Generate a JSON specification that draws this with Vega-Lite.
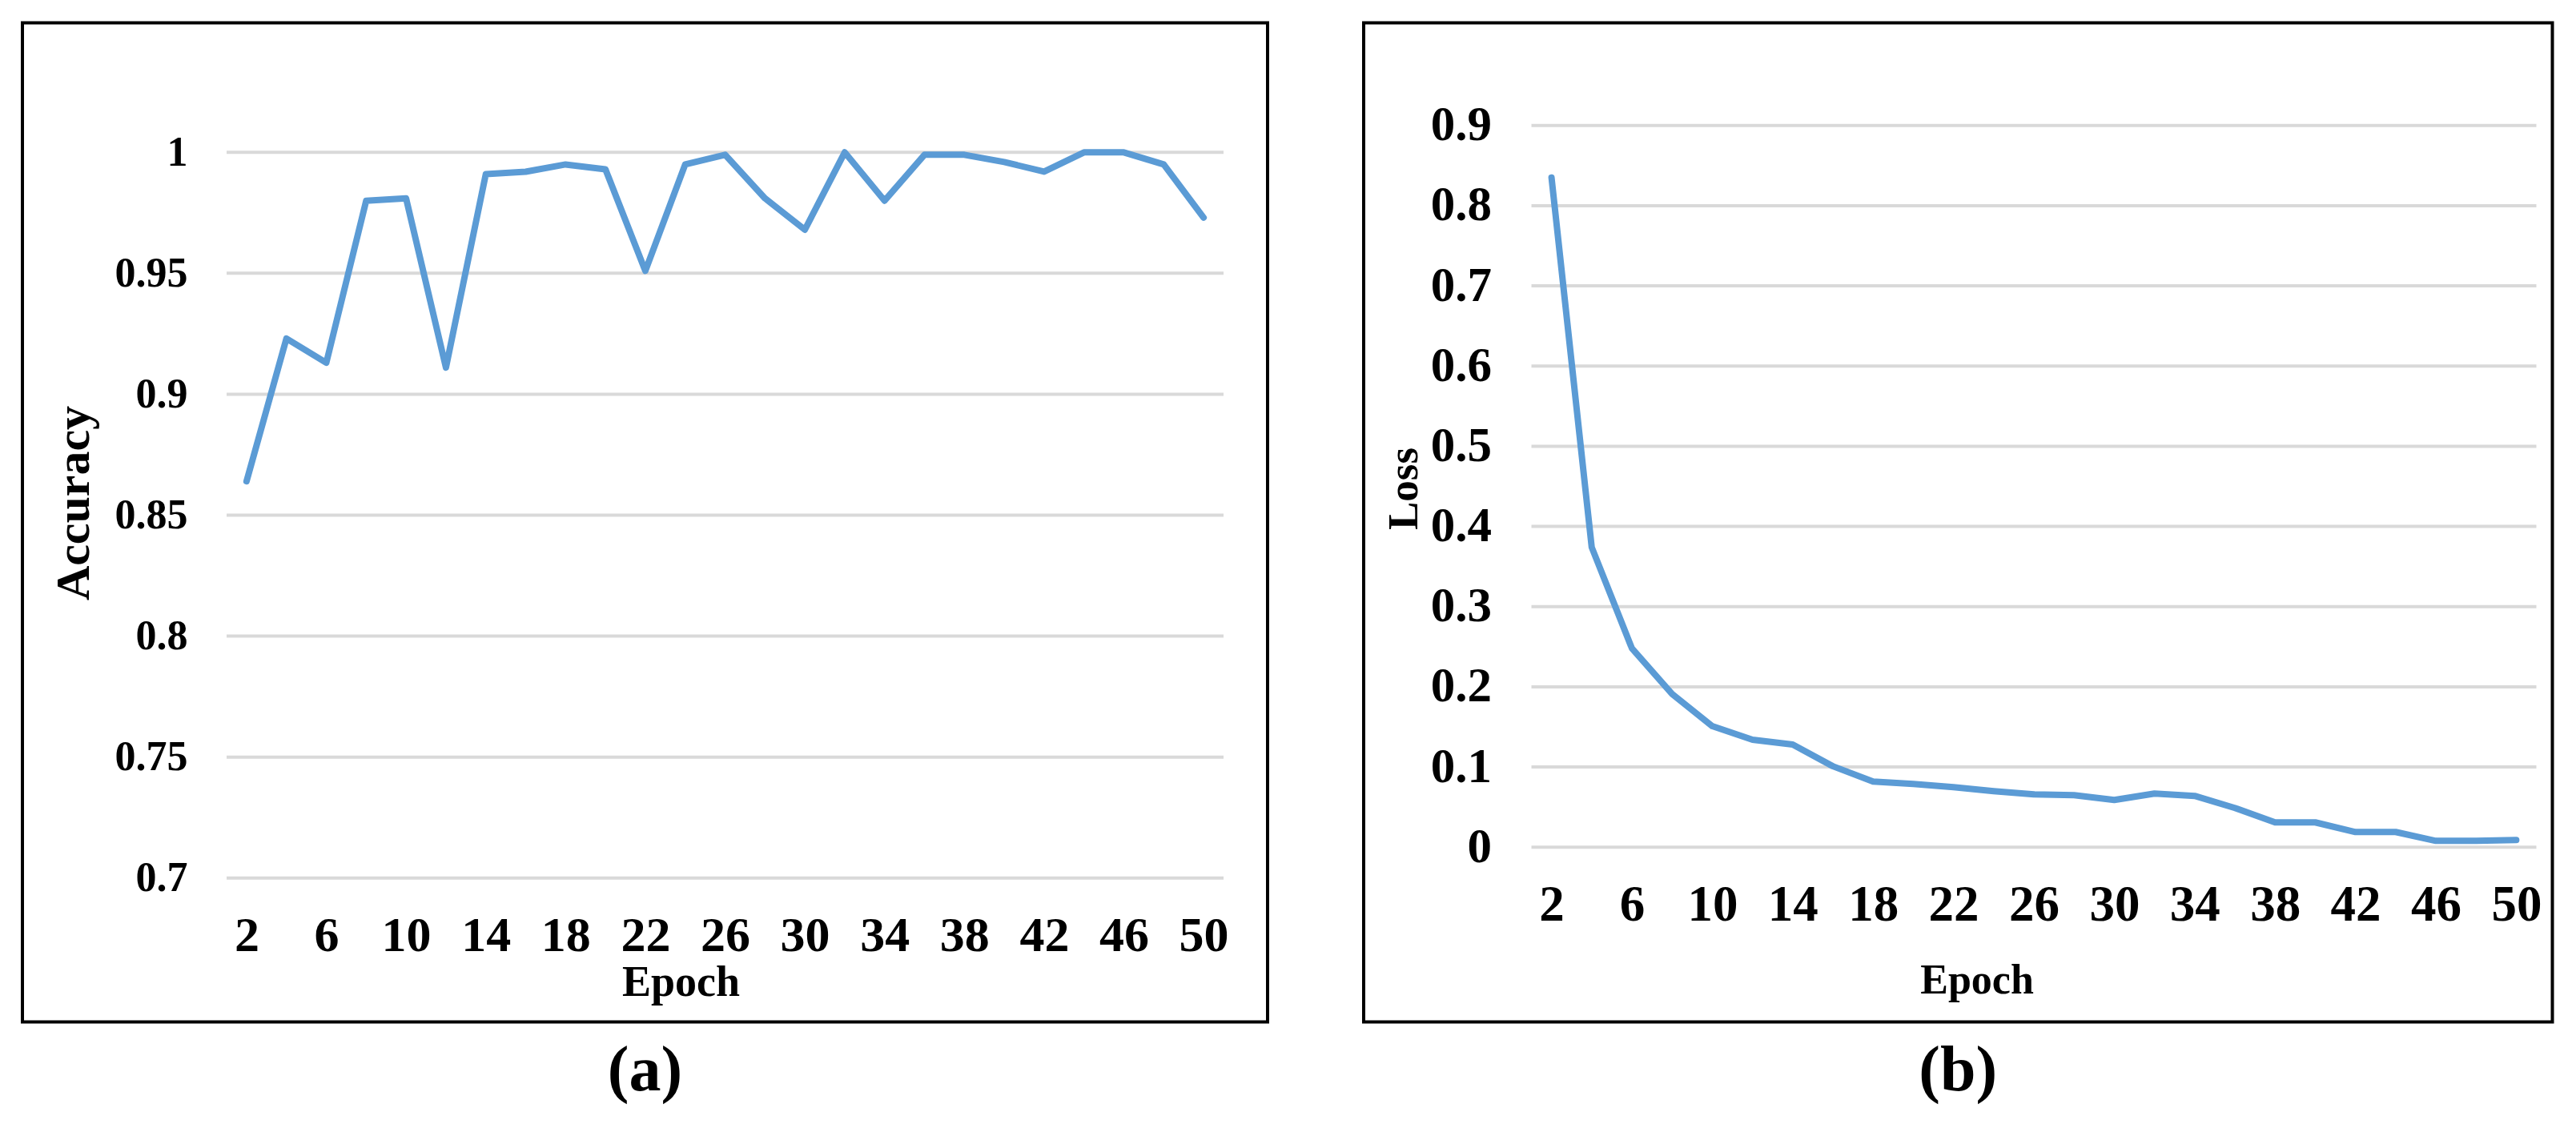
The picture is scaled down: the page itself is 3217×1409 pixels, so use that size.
{
  "$schema": "https://vega.github.io/schema/vega-lite/v6.json",
  "background": "white",
  "padding": {"left": 26, "top": 26.5, "right": 0, "bottom": 0},
  "config": {
    "view": {"stroke": "#000000", "strokeWidth": 4},
    "font": "Liberation Serif",
    "axis": {
      "grid": false, "domain": false, "ticks": false,
      "labelFont": "Liberation Serif", "labelFontWeight": "bold", "labelColor": "#000000",
      "titleFont": "Liberation Serif", "titleFontWeight": "bold", "titleColor": "#000000",
      "labelPadding": 0, "labelFlush": false, "labelOverlap": false, "labelBound": false
    },
    "title": {"font": "Liberation Serif", "fontWeight": "bold", "color": "#000000"}
  },
  "spacing": 116,
  "hconcat": [
    {
      "width": 1555,
      "height": 1248,
      "title": {"text": "(a)", "orient": "bottom", "anchor": "middle", "fontSize": 80, "baseline": "alphabetic", "offset": 85},
      "data": {"values": [
        {"epoch": 2, "accuracy": 0.864}, {"epoch": 4, "accuracy": 0.923}, {"epoch": 6, "accuracy": 0.913},
        {"epoch": 8, "accuracy": 0.980}, {"epoch": 10, "accuracy": 0.981}, {"epoch": 12, "accuracy": 0.911},
        {"epoch": 14, "accuracy": 0.991}, {"epoch": 16, "accuracy": 0.992}, {"epoch": 18, "accuracy": 0.995},
        {"epoch": 20, "accuracy": 0.993}, {"epoch": 22, "accuracy": 0.951}, {"epoch": 24, "accuracy": 0.995},
        {"epoch": 26, "accuracy": 0.999}, {"epoch": 28, "accuracy": 0.981}, {"epoch": 30, "accuracy": 0.968},
        {"epoch": 32, "accuracy": 1.0}, {"epoch": 34, "accuracy": 0.980}, {"epoch": 36, "accuracy": 0.999},
        {"epoch": 38, "accuracy": 0.999}, {"epoch": 40, "accuracy": 0.996}, {"epoch": 42, "accuracy": 0.992},
        {"epoch": 44, "accuracy": 1.0}, {"epoch": 46, "accuracy": 1.0}, {"epoch": 48, "accuracy": 0.995},
        {"epoch": 50, "accuracy": 0.973}
      ]},
      "layer": [
        {
          "data": {"values": [{"g": 0.7}, {"g": 0.75}, {"g": 0.8}, {"g": 0.85}, {"g": 0.9}, {"g": 0.95}, {"g": 1.0}]},
          "mark": {"type": "rule", "color": "#d9d9d9", "strokeWidth": 4},
          "encoding": {
            "x": {"datum": 1, "type": "quantitative", "scale": {"domain": [1, 51], "range": [255, 1500], "nice": false, "zero": false},
              "axis": {"values": [2, 6, 10, 14, 18, 22, 26, 30, 34, 38, 42, 46, 50], "format": "d", "offset": -138, "labelFontSize": 62, "labelBaseline": "top",
                "title": "Epoch", "titleFontSize": 54, "titleX": 822, "titleY": 105, "titleBaseline": "alphabetic", "titleAlign": "center", "titleAngle": 0}},
            "x2": {"datum": 51},
            "y": {"field": "g", "type": "quantitative", "scale": {"domain": [0.7, 1.0], "range": [1068.2, 161.8], "nice": false, "zero": false},
              "axis": {"values": [0.7, 0.75, 0.8, 0.85, 0.9, 0.95, 1.0], "format": "~g", "offset": -206, "labelFontSize": 52, "labelAlign": "right", "labelBaseline": "middle",
                "title": "Accuracy", "titleFontSize": 60, "titleAngle": 270, "titleX": -124, "titleY": 599.5, "titleBaseline": "alphabetic", "titleAlign": "center"}}
          }
        },
        {
          "mark": {"type": "line", "color": "#5b9bd5", "strokeWidth": 8, "strokeCap": "round", "strokeJoin": "round"},
          "encoding": {
            "x": {"field": "epoch", "type": "quantitative",
              "scale": {"domain": [1, 51], "range": [255, 1500], "nice": false, "zero": false},
              "axis": {"values": [2, 6, 10, 14, 18, 22, 26, 30, 34, 38, 42, 46, 50], "format": "d", "offset": -138, "labelFontSize": 62, "labelBaseline": "top",
                "title": "Epoch", "titleFontSize": 54, "titleX": 822, "titleY": 105, "titleBaseline": "alphabetic", "titleAlign": "center", "titleAngle": 0}},
            "y": {"field": "accuracy", "type": "quantitative",
              "scale": {"domain": [0.7, 1.0], "range": [1068.2, 161.8], "nice": false, "zero": false},
              "axis": {"values": [0.7, 0.75, 0.8, 0.85, 0.9, 0.95, 1.0], "format": "~g", "offset": -206, "labelFontSize": 52, "labelAlign": "right", "labelBaseline": "middle",
                "title": "Accuracy", "titleFontSize": 60, "titleAngle": 270, "titleX": -124, "titleY": 599.5, "titleBaseline": "alphabetic", "titleAlign": "center"}}
          }
        }
      ]
    },
    {
      "width": 1484.5,
      "height": 1248,
      "title": {"text": "(b)", "orient": "bottom", "anchor": "middle", "fontSize": 80, "baseline": "alphabetic", "offset": 85},
      "data": {"values": [
        {"epoch": 2, "loss": 0.835}, {"epoch": 4, "loss": 0.374}, {"epoch": 6, "loss": 0.248},
        {"epoch": 8, "loss": 0.191}, {"epoch": 10, "loss": 0.151}, {"epoch": 12, "loss": 0.134},
        {"epoch": 14, "loss": 0.128}, {"epoch": 16, "loss": 0.101}, {"epoch": 18, "loss": 0.082},
        {"epoch": 20, "loss": 0.079}, {"epoch": 22, "loss": 0.075}, {"epoch": 24, "loss": 0.070},
        {"epoch": 26, "loss": 0.066}, {"epoch": 28, "loss": 0.065}, {"epoch": 30, "loss": 0.059},
        {"epoch": 32, "loss": 0.067}, {"epoch": 34, "loss": 0.064}, {"epoch": 36, "loss": 0.049},
        {"epoch": 38, "loss": 0.031}, {"epoch": 40, "loss": 0.031}, {"epoch": 42, "loss": 0.019},
        {"epoch": 44, "loss": 0.019}, {"epoch": 46, "loss": 0.008}, {"epoch": 48, "loss": 0.008},
        {"epoch": 50, "loss": 0.009}
      ]},
      "layer": [
        {
          "data": {"values": [{"g": 0}, {"g": 0.1}, {"g": 0.2}, {"g": 0.3}, {"g": 0.4}, {"g": 0.5}, {"g": 0.6}, {"g": 0.7}, {"g": 0.8}, {"g": 0.9}]},
          "mark": {"type": "rule", "color": "#d9d9d9", "strokeWidth": 4},
          "encoding": {
            "x": {"datum": 1, "type": "quantitative", "scale": {"domain": [1, 51], "range": [209.5, 1464.5], "nice": false, "zero": false},
              "axis": {"values": [2, 6, 10, 14, 18, 22, 26, 30, 34, 38, 42, 46, 50], "format": "d", "offset": -177, "labelFontSize": 63, "labelBaseline": "top",
                "title": "Epoch", "titleFontSize": 52, "titleX": 765.5, "titleY": 141, "titleBaseline": "alphabetic", "titleAlign": "center", "titleAngle": 0}},
            "x2": {"datum": 51},
            "y": {"field": "g", "type": "quantitative", "scale": {"domain": [0, 0.9], "range": [1029.8, 128.2], "nice": false, "zero": false},
              "axis": {"values": [0, 0.1, 0.2, 0.3, 0.4, 0.5, 0.6, 0.7, 0.8, 0.9], "format": "~g", "offset": -159.5, "labelFontSize": 61, "labelAlign": "right", "labelBaseline": "middle",
                "title": "Loss", "titleFontSize": 53, "titleAngle": 270, "titleX": -93, "titleY": 581.5, "titleBaseline": "alphabetic", "titleAlign": "center"}}
          }
        },
        {
          "mark": {"type": "line", "color": "#5b9bd5", "strokeWidth": 8, "strokeCap": "round", "strokeJoin": "round"},
          "encoding": {
            "x": {"field": "epoch", "type": "quantitative",
              "scale": {"domain": [1, 51], "range": [209.5, 1464.5], "nice": false, "zero": false},
              "axis": {"values": [2, 6, 10, 14, 18, 22, 26, 30, 34, 38, 42, 46, 50], "format": "d", "offset": -177, "labelFontSize": 63, "labelBaseline": "top",
                "title": "Epoch", "titleFontSize": 52, "titleX": 765.5, "titleY": 141, "titleBaseline": "alphabetic", "titleAlign": "center", "titleAngle": 0}},
            "y": {"field": "loss", "type": "quantitative",
              "scale": {"domain": [0, 0.9], "range": [1029.8, 128.2], "nice": false, "zero": false},
              "axis": {"values": [0, 0.1, 0.2, 0.3, 0.4, 0.5, 0.6, 0.7, 0.8, 0.9], "format": "~g", "offset": -159.5, "labelFontSize": 61, "labelAlign": "right", "labelBaseline": "middle",
                "title": "Loss", "titleFontSize": 53, "titleAngle": 270, "titleX": -93, "titleY": 581.5, "titleBaseline": "alphabetic", "titleAlign": "center"}}
          }
        }
      ]
    }
  ]
}
